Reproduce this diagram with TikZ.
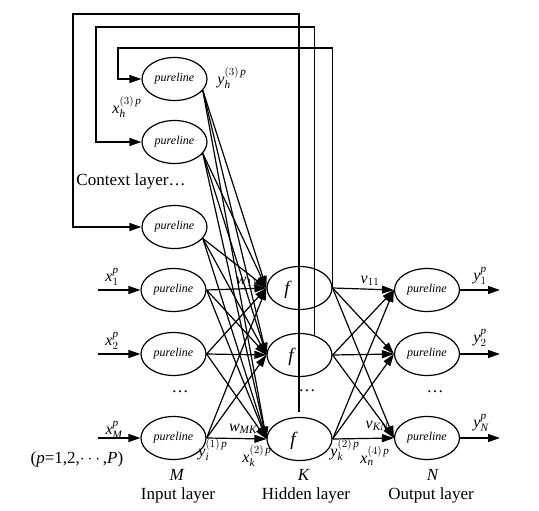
\documentclass[tikz,border=0pt]{standalone}
\usepackage{amsmath}
\usepackage{fontspec}
\setmainfont{Liberation Serif}
\usetikzlibrary{shapes.geometric,arrows.meta}
\newcommand\ti[1]{\textit{#1}}
\begin{document}
\begin{tikzpicture}[x=1pt,y=-1pt, line width=1.2pt,
 neuron/.style={ellipse,draw,minimum width=65pt,minimum height=43pt,inner sep=0pt},
 pl/.style={neuron,font=\fontsize{12}{14}\selectfont\itshape},
 hid/.style={neuron},
 ftext/.style={font=\fontsize{19}{20}\selectfont\itshape,inner sep=0pt},
 arr/.style={-{Triangle[length=12pt,width=8pt]}},
 lab/.style={font=\fontsize{16}{18}\selectfont, inner sep=0pt},
 big/.style={font=\fontsize{17}{19}\selectfont, inner sep=0pt}]
\useasboundingbox (0,0) rectangle (539,511);

% context layer
\node[pl] (C1) at (174.5,79) {pureline};
\node[pl] (C2) at (174.5,142) {pureline};
\node[pl] (C3) at (174.5,227) {pureline};
% input layer
\node[pl] (I1) at (173.5,290) {pureline};
\node[pl] (I2) at (173.5,354) {pureline};
\node[pl] (I3) at (173.5,438) {pureline};
% hidden layer
\node[hid] (H1) at (299.5,288) {};
\node[hid] (H2) at (299.5,355) {};
\node[hid] (H3) at (299.5,439) {};
\node[ftext] (fH1) at (287,290) {f};
\node[ftext] (fH2) at (291,357) {f};
\node[ftext] (fH3) at (293,441) {f};
% output layer
\node[pl] (O1) at (427,290) {pureline};
\node[pl] (O2) at (427,354) {pureline};
\node[pl] (O3) at (427,438) {pureline};

% coordinates
\coordinate (in1) at (98,290);
\coordinate (in2) at (98,354);
\coordinate (in3) at (98,438);
\coordinate (out1) at (500,290);
\coordinate (out2) at (500,354);
\coordinate (out3) at (500,438);
\coordinate (fa0) at (299,412);
\coordinate (fa1) at (73,14);
\coordinate (fb1) at (96,27);
\coordinate (fc1) at (118,48);

% feedback lines
\draw[arr] (fa0) |- (fa1) |- (C3.west);
\draw[arr] (H2.53) |- (fb1) |- (C2.west);
\draw[arr] (H1.east) |- (fc1) |- (C1.west);

% context -> hidden
\foreach \c in {C1,C2,C3}{
  \foreach \h in {H1,H2,H3}{
    \draw[arr] (\c.-22) -- (\h.west);
  }
}
% input -> hidden
\foreach \i in {I1,I2,I3}{
  \foreach \h in {H1,H2,H3}{
    \draw[arr] (\i.east) -- (\h.west);
  }
}
% hidden -> output
\foreach \h in {H1,H2,H3}{
  \foreach \o in {O1,O2,O3}{
    \draw[arr] (\h.east) -- (\o.west);
  }
}
% inputs and outputs
\draw[arr] (in1) -- (I1.west);
\draw[arr] (in2) -- (I2.west);
\draw[arr] (in3) -- (I3.west);
\draw[arr] (O1.east) -- (out1);
\draw[arr] (O2.east) -- (out2);
\draw[arr] (O3.east) -- (out3);

% labels
\node[lab] (lyh) at (232,78) {$\ti{y}_{\ti{h}}^{(3)\,\ti{p}}$};
\node[lab] (lxh) at (127,107) {$\ti{x}_{\ti{h}}^{(3)\,\ti{p}}$};
\node[big] (ctx) at (131,181) {Context layer\ldots};
\node[lab] (lx1) at (112,277) {$\ti{x}_{1}^{\ti{p}}$};
\node[lab] (lx2) at (112,341) {$\ti{x}_{2}^{\ti{p}}$};
\node[lab] (lxM) at (114,430) {$\ti{x}_{\ti{M}}^{\ti{p}}$};
\node[big] (lp) at (77,459) {(\ti{p}=1,2,$\cdots$,\ti{P})};
\node[lab] (lw11) at (247,282) {$\ti{w}_{11}$};
\node[lab] (lwMK) at (243,429) {$\ti{w}_{\ti{MK}}$};
\node[lab] (lyi) at (213,450) {$\ti{y}_{\ti{i}}^{(1)\,\ti{p}}$};
\node[lab] (lxk) at (257,456) {$\ti{x}_{\ti{k}}^{(2)\,\ti{p}}$};
\node[lab] (lyk) at (345,450) {$\ti{y}_{\ti{k}}^{(2)\,\ti{p}}$};
\node[lab] (lxn) at (375,456) {$\ti{x}_{\ti{n}}^{(4)\,\ti{p}}$};
\node[lab] (lv11) at (370,281) {$\ti{v}_{11}$};
\node[lab] (lvKN) at (377,426) {$\ti{v}_{\ti{KN}}$};
\node[lab] (ly1) at (480,276) {$\ti{y}_{1}^{\ti{p}}$};
\node[lab] (ly2) at (480,338) {$\ti{y}_{2}^{\ti{p}}$};
\node[lab] (lyN) at (481,423) {$\ti{y}_{\ti{N}}^{\ti{p}}$};
\node[big] (dI) at (180,392) {\ldots};
\node[big] (dH) at (307,391) {\ldots};
\node[big] (dO) at (435,392) {\ldots};
\node[big] (lM) at (177,475) {\ti{M}};
\node[big] (lK) at (304,475) {\ti{K}};
\node[big] (lN) at (433,475) {\ti{N}};
\node[big] (tI) at (178,495) {Input layer};
\node[big] (tH) at (306,495) {Hidden layer};
\node[big] (tO) at (431,495) {Output layer};
\end{tikzpicture}
\end{document}
